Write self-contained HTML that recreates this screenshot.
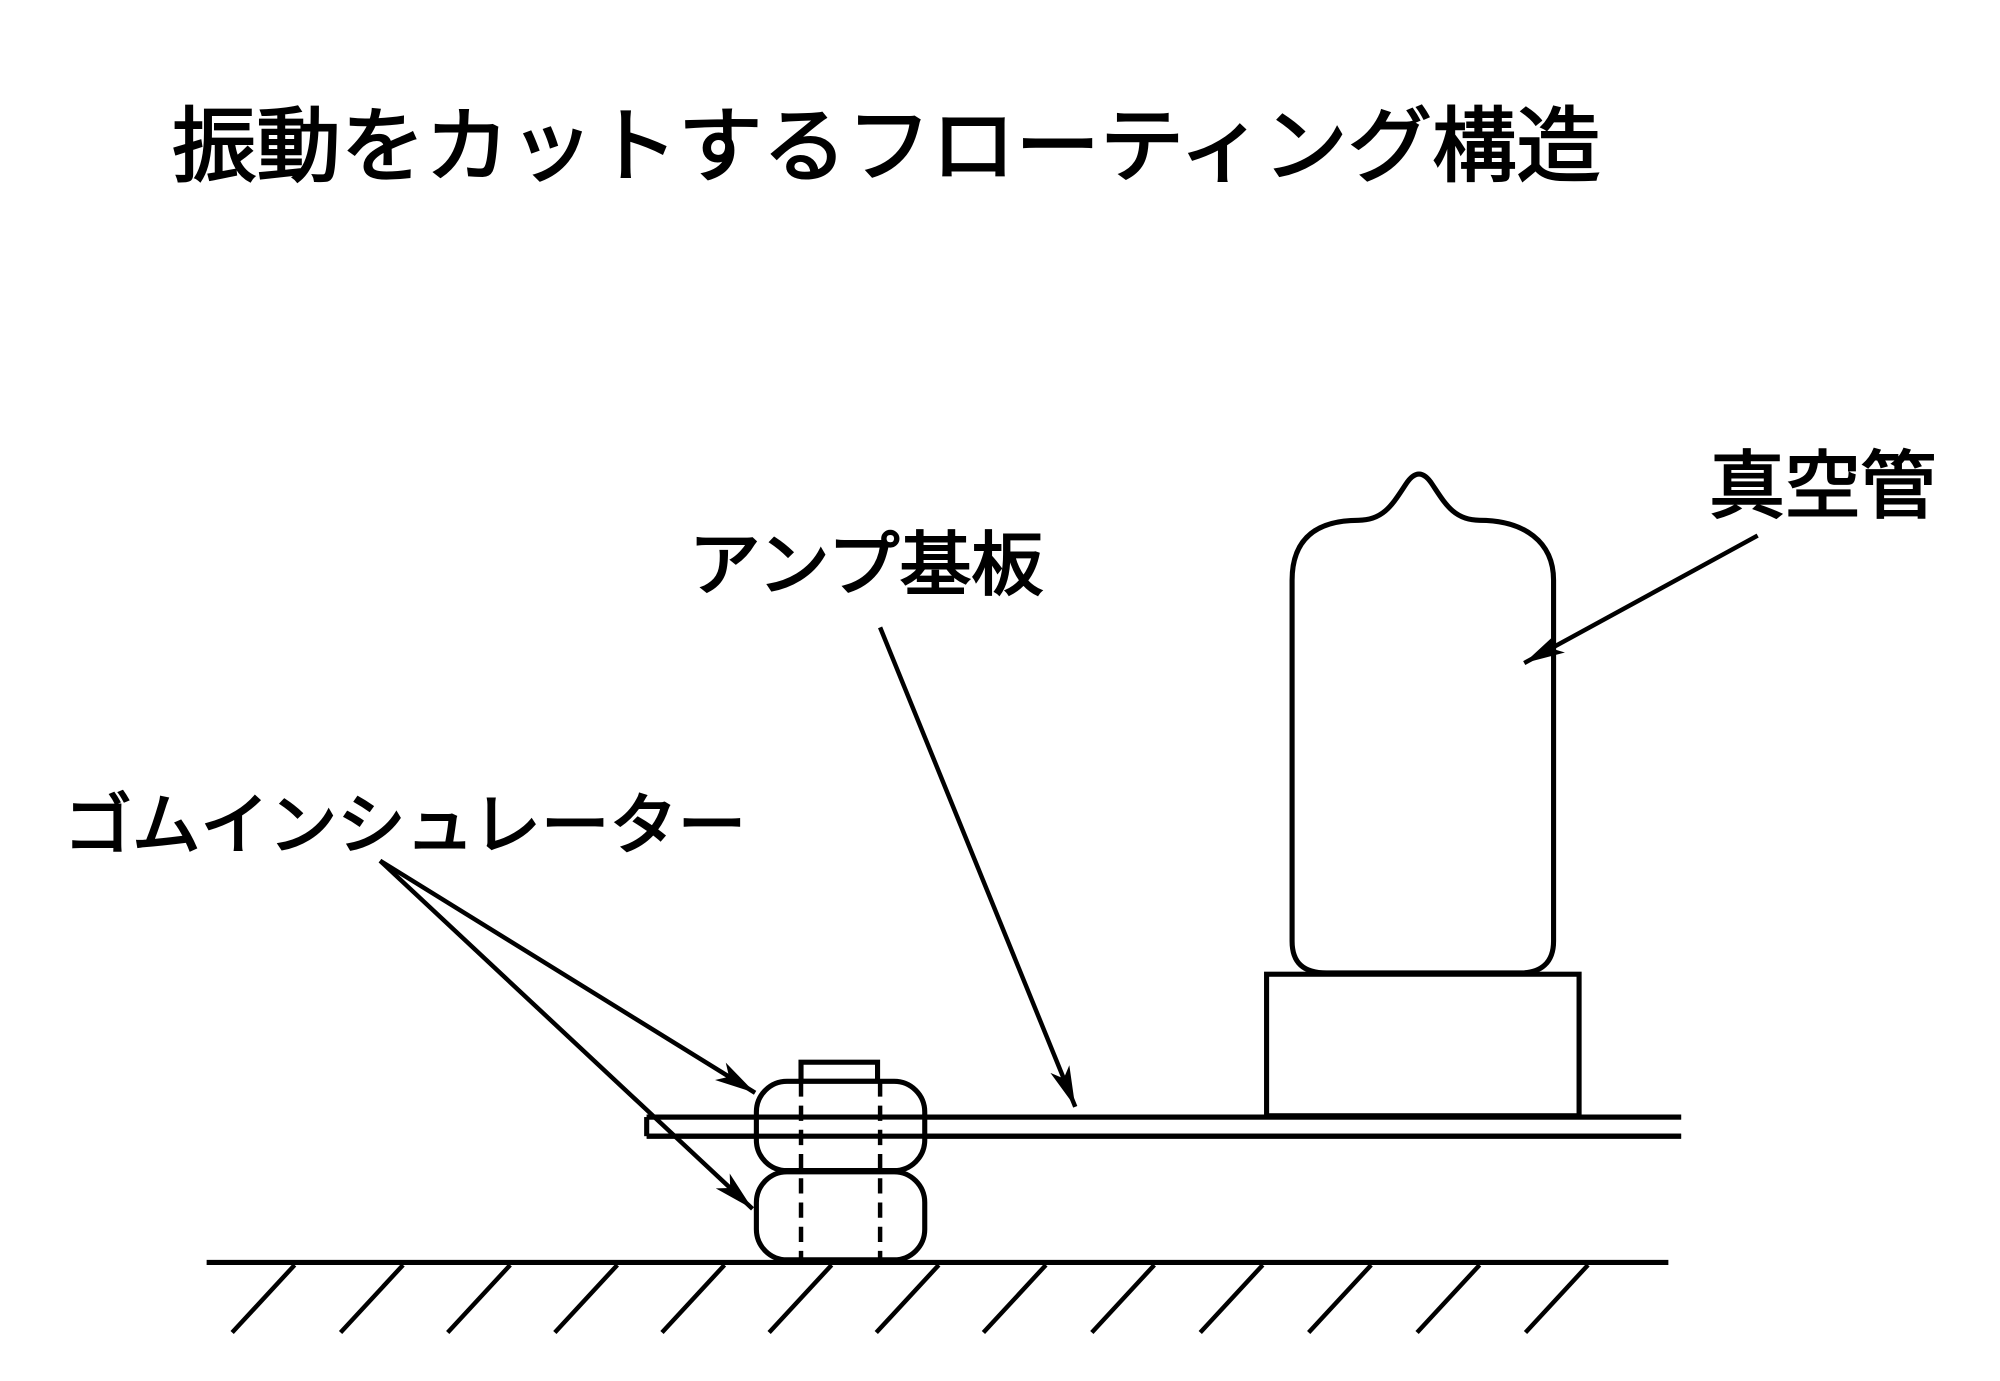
<!DOCTYPE html>
<html><head><meta charset="utf-8"><style>html,body{margin:0;padding:0;background:#fff}svg{display:block}</style></head>
<body>
<svg width="2000" height="1381" viewBox="0 0 1568 1083" preserveAspectRatio="none" xmlns="http://www.w3.org/2000/svg">
<defs>
<marker id="a" markerWidth="34" markerHeight="20" refX="32" refY="10" orient="auto" markerUnits="userSpaceOnUse">
<path d="M0,2 L32,10 L0,18 L8,10 Z" fill="#000"/>
</marker>
</defs>
<rect width="1568" height="1083" fill="#fff"/>
<g font-family="'Liberation Sans','Noto Sans CJK JP',sans-serif" font-weight="normal" fill="#000" stroke="#000" stroke-width="1.6">
<text x="135" y="137" font-size="64" textLength="1120" lengthAdjust="spacingAndGlyphs">振動をカットするフローティング構造</text>
<text x="1340" y="401" font-size="58" textLength="178" lengthAdjust="spacingAndGlyphs">真空管</text>
<text x="540" y="462" font-size="55" textLength="278" lengthAdjust="spacingAndGlyphs">アンプ基板</text>
<text x="50" y="665" font-size="52" textLength="535" lengthAdjust="spacingAndGlyphs">ゴムインシュレーター</text>
</g>
<g stroke="#000" stroke-width="4" fill="none">
<path d="M1013,738 L1013,455 C1013,420 1035,408 1065,408 C1085,408 1092,395 1102,380 C1109,369 1116,369 1123,380 C1133,395 1140,408 1160,408 C1195,408 1218,425 1218,455 L1218,738 C1218,755 1208,763 1192,763 L1040,763 C1022,763 1013,755 1013,738 Z"/>
<rect x="993" y="764" width="245" height="111"/>
<line x1="507" y1="876" x2="1318" y2="876"/>
<line x1="507" y1="891" x2="1318" y2="891"/>
<line x1="507" y1="876" x2="507" y2="891"/>
<line x1="162" y1="990" x2="1308" y2="990"/>
<g stroke-width="3.5">
<line x1="231" y1="992" x2="182" y2="1045"/>
<line x1="316" y1="992" x2="267" y2="1045"/>
<line x1="400" y1="992" x2="351" y2="1045"/>
<line x1="484" y1="992" x2="435" y2="1045"/>
<line x1="568" y1="992" x2="519" y2="1045"/>
<line x1="652" y1="992" x2="603" y2="1045"/>
<line x1="736" y1="992" x2="687" y2="1045"/>
<line x1="820" y1="992" x2="771" y2="1045"/>
<line x1="905" y1="992" x2="856" y2="1045"/>
<line x1="990" y1="992" x2="941" y2="1045"/>
<line x1="1075" y1="992" x2="1026" y2="1045"/>
<line x1="1160" y1="992" x2="1111" y2="1045"/>
<line x1="1245" y1="992" x2="1196" y2="1045"/>
</g>
<rect x="628" y="833" width="60" height="15" fill="#fff"/>
<rect x="593" y="848" width="132" height="70" rx="24" fill="#fff"/>
<rect x="593" y="919" width="132" height="69" rx="24" fill="#fff"/>
<line x1="507" y1="876" x2="1318" y2="876"/>
<line x1="507" y1="891" x2="1318" y2="891"/>
<line x1="628" y1="848" x2="628" y2="988" stroke-dasharray="12,7" stroke-width="3.5"/>
<line x1="690" y1="848" x2="690" y2="988" stroke-dasharray="12,7" stroke-width="3.5"/>
<line x1="298" y1="675" x2="592" y2="857" marker-end="url(#a)" stroke-width="3.5"/>
<line x1="298" y1="675" x2="590" y2="948" marker-end="url(#a)" stroke-width="3.5"/>
<line x1="690" y1="492" x2="843" y2="868" marker-end="url(#a)" stroke-width="3.5"/>
<line x1="1378" y1="420" x2="1195" y2="520" marker-end="url(#a)" stroke-width="3.5"/>
</g>
</svg>
</body></html>
